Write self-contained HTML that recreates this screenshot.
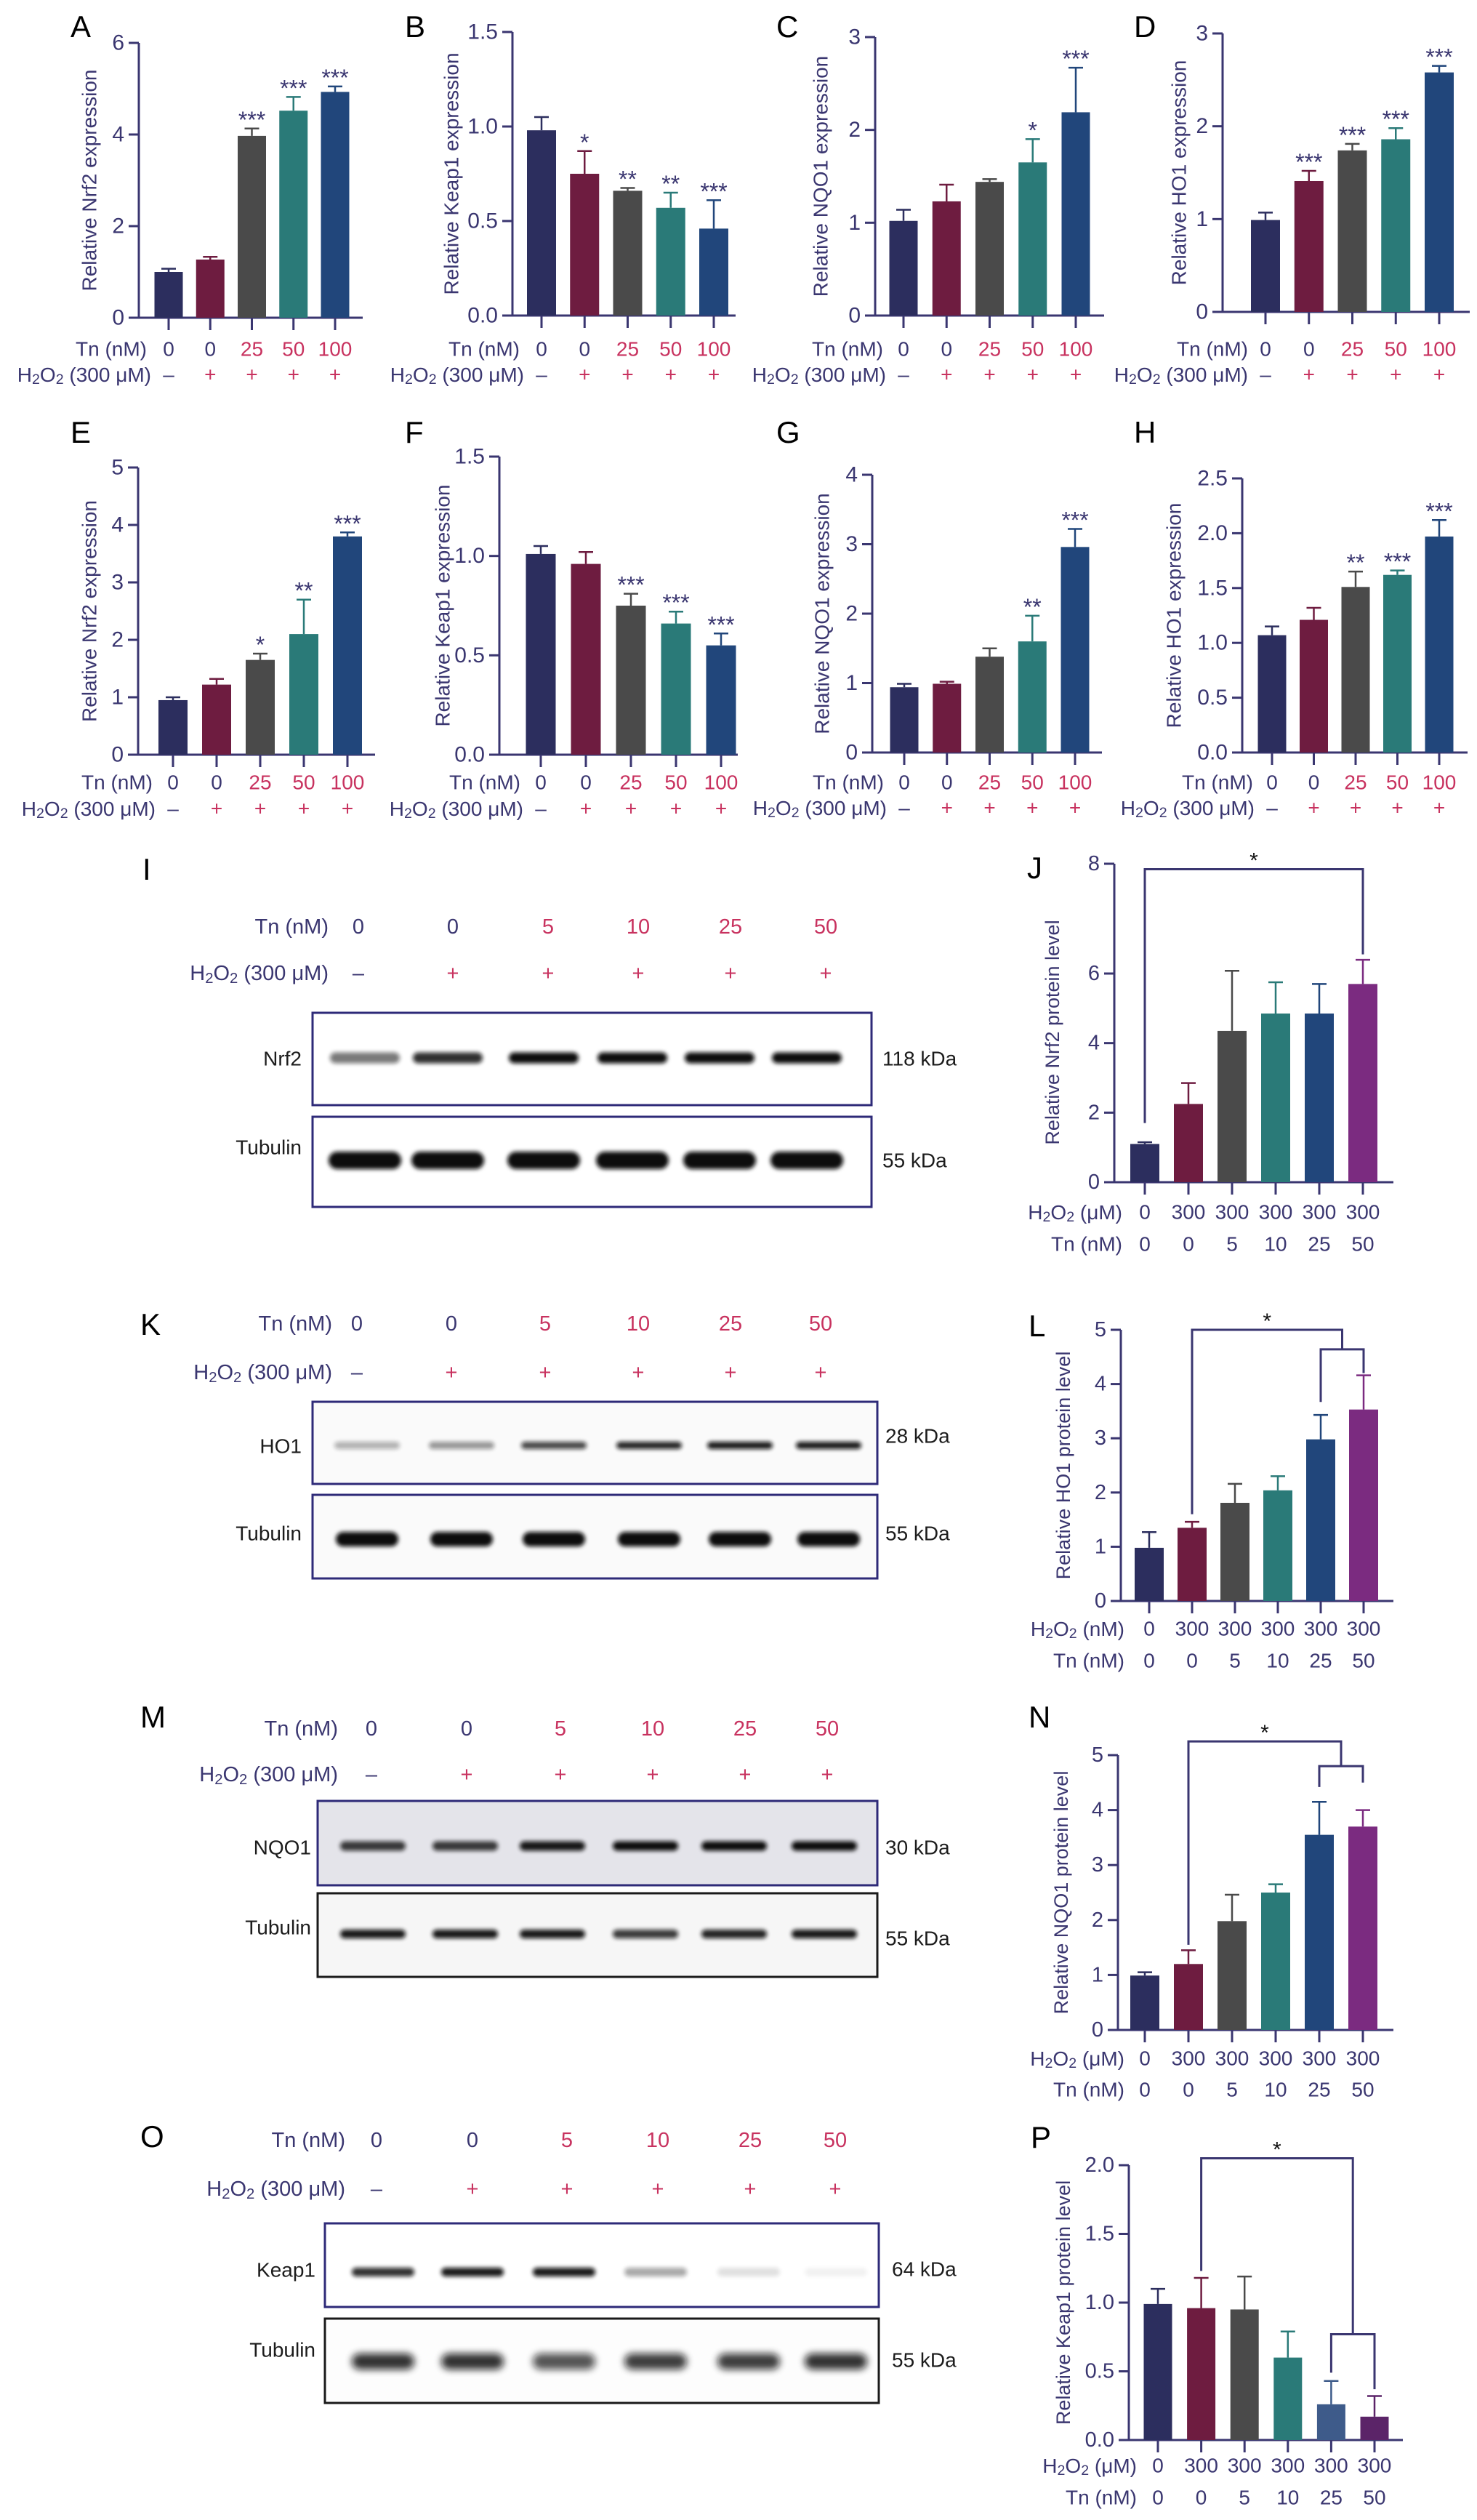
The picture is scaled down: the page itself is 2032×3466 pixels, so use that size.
<!DOCTYPE html>
<html><head><meta charset="utf-8"><title>Nrf2 / Keap1 / HO1 / NQO1 figure</title>
<style>
html,body{margin:0;padding:0;background:#fff;}
svg{display:block;font-family:"Liberation Sans",Arial,sans-serif;}
</style></head>
<body>
<svg id="fig" xmlns="http://www.w3.org/2000/svg" width="2032" height="3466" viewBox="0 0 2032 3466">
<defs>
<filter id="blur3" x="-20%" y="-80%" width="140%" height="260%"><feGaussianBlur stdDeviation="3"/></filter>
<filter id="blur5" x="-20%" y="-80%" width="140%" height="260%"><feGaussianBlur stdDeviation="5"/></filter>
</defs>
<rect x="0" y="0" width="2032" height="3466" fill="#ffffff"/>
</svg>
<script>
// ---------- data: qPCR charts ----------
const tnRow = ['0','0','25','50','100'];
const h2o2Row = ['\u2013','+','+','+','+'];
const valsA = [1.0,1.27,3.97,4.52,4.93];
const errA = [1.07,1.33,4.13,4.82,5.05];
const starsA = ['','','***','***','***'];
const ticksA = [0,2,4,6];
const tickLblA = ['0','2','4','6'];
const valsB = [0.98,0.75,0.66,0.57,0.46];
const errB = [1.05,0.87,0.675,0.65,0.61];
const starsB = ['','*','**','**','***'];
const ticksB = [0,0.5,1,1.5];
const tickLblB = ['0.0','0.5','1.0','1.5'];
const valsC = [1.02,1.23,1.44,1.65,2.19];
const errC = [1.14,1.41,1.47,1.90,2.67];
const starsC = ['','','','*','***'];
const ticksC = [0,1,2,3];
const tickLblC = ['0','1','2','3'];
const valsD = [0.99,1.41,1.74,1.86,2.58];
const errD = [1.07,1.52,1.81,1.98,2.65];
const starsD = ['','***','***','***','***'];
const ticksD = [0,1,2,3];
const tickLblD = ['0','1','2','3'];
const valsE = [0.95,1.22,1.65,2.1,3.8];
const errE = [1.0,1.32,1.76,2.7,3.87];
const starsE = ['','','*','**','***'];
const ticksE = [0,1,2,3,4,5];
const tickLblE = ['0','1','2','3','4','5'];
const valsF = [1.01,0.96,0.75,0.66,0.55];
const errF = [1.05,1.02,0.81,0.72,0.61];
const starsF = ['','','***','***','***'];
const ticksF = [0,0.5,1,1.5];
const tickLblF = ['0.0','0.5','1.0','1.5'];
const valsG = [0.94,0.99,1.38,1.6,2.96];
const errG = [0.99,1.02,1.5,1.97,3.22];
const starsG = ['','','','**','***'];
const ticksG = [0,1,2,3,4];
const tickLblG = ['0','1','2','3','4'];
const valsH = [1.07,1.21,1.51,1.62,1.97];
const errH = [1.15,1.32,1.65,1.66,2.12];
const starsH = ['','','**','***','***'];
const ticksH = [0,0.5,1,1.5,2,2.5];
const tickLblH = ['0.0','0.5','1.0','1.5','2.0','2.5'];

// ---------- data: protein quantification ----------
const protH2o2 = ['0','300','300','300','300','300'];
const protTn = ['0','0','5','10','25','50'];
const valsJ = [1.1,2.25,4.35,4.85,4.85,5.7];
const errJ = [1.15,2.85,6.05,5.75,5.7,6.25];
const ticksJ = [0,2,4,6,8];
const tickLblJ = ['0','2','4','6','8'];
const valsL = [0.98,1.35,1.81,2.04,2.98,3.53];
const errL = [1.27,1.46,2.16,2.3,3.43,4.16];
const ticksL = [0,1,2,3,4,5];
const tickLblL = ['0','1','2','3','4','5'];
const valsN = [0.99,1.2,1.98,2.5,3.55,3.7];
const errN = [1.05,1.45,2.46,2.65,4.15,4.0];
const ticksN = [0,1,2,3,4,5];
const tickLblN = ['0','1','2','3','4','5'];
const valsP = [0.99,0.96,0.95,0.6,0.26,0.17];
const errP = [1.1,1.18,1.19,0.79,0.43,0.32];
const ticksP = [0,0.5,1,1.5,2];
const tickLblP = ['0.0','0.5','1.0','1.5','2.0'];
// significance brackets: bar indices (x1,x2), top value, leg end values
const bracketsJ = [[0,5,7.9,1.7,6.35]];
const bracketsL = [[1,4.5,5.0,1.6,4.64],[4,5,4.64,3.67,4.2]];
const bracketsN = [[1,4.5,5.25,1.55,4.8],[4,5,4.8,4.42,4.5]];
const bracketsP = [[1,4.5,2.05,1.23,0.77],[4,5,0.77,0.49,0.37]];

// ---------- data: blot band intensities ----------
const blotTn = ['0','0','5','10','25','50'];
const blotH2o2 = ['\u2013','+','+','+','+','+'];
const nrf2Int = [0.55,0.85,1,1,1,1];
const tubIInt = [1,1,1,1,1,1];
const ho1Int = [0.3,0.42,0.75,0.9,0.95,0.95];
const tubKInt = [1,1,1,1,1,1];
const nqo1Int = [0.8,0.8,0.95,1,1,1];
const tubMInt = [0.95,0.95,0.95,0.8,0.9,0.95];
const keap1Int = [0.85,0.95,0.95,0.35,0.12,0.05];
const tubOInt = [0.85,0.85,0.7,0.8,0.8,0.85];

// ---------- drawing ----------
const NS = 'http://www.w3.org/2000/svg';
const svg = document.getElementById('fig');
const AX = '#3a3670';
const RED = '#c8325f';
const INK = '#1c1c1c';
const col5 = ['#2c2e5e','#6e1c40','#4a4a4a','#2a7a78','#21467b'];
const col6 = ['#2c2e5e','#6e1c40','#4a4a4a','#2a7a78','#21467b','#7b2b80'];
const col6P = ['#2c2e5e','#6e1c40','#4a4a4a','#2a7a78','#3e5b8a','#5b2468'];

function mk(tag, attrs, parent){
  const e = document.createElementNS(NS, tag);
  for (const k in attrs) e.setAttribute(k, attrs[k]);
  (parent || svg).appendChild(e);
  return e;
}
function txt(s, attrs, parent){
  const e = mk('text', attrs, parent);
  e.textContent = s;
  return e;
}
function h2o2Text(unit, attrs, parent){
  const e = mk('text', attrs, parent);
  const parts = [['H',0],['2',1],['O',-1],['2',1],[' (' + unit + ')',-1]];
  parts.forEach(function(p){
    const t = document.createElementNS(NS,'tspan');
    t.textContent = p[0];
    if (p[1] === 1){ t.setAttribute('font-size','0.7em'); t.setAttribute('dy','7'); }
    if (p[1] === -1){ t.setAttribute('dy','-7'); }
    e.appendChild(t);
  });
  return e;
}
function makeScale(L){
  const bv = (L.breakV !== undefined) ? L.breakV : L.max;
  const by = (L.breakY !== undefined) ? L.breakY : L.yTop;
  return function(v){
    if (v <= bv || L.max <= bv) return L.y0 - (v - L.min) / (bv - L.min) * (L.y0 - by);
    return by - (v - bv) / (L.max - bv) * (by - L.yTop);
  };
}

function drawChart(id, d, L){
  const g = mk('g', {});
  
  
  const y = makeScale(L);
  const xb = function(i){ return L.x0 + i * L.step; };

  const letter = txt(L.letter, {x:L.lx, y:L.ly, 'font-size':42, fill:'#000'}, g);
  
  

  const yAxis = mk('line', {x1:L.ax, x2:L.ax, y1:L.yTop, y2:L.y0, stroke:AX, 'stroke-width':3}, g);
  
  
  const xAxis = mk('line', {x1:L.ax - 1.5, x2:L.end, y1:L.y0, y2:L.y0, stroke:AX, 'stroke-width':3}, g);
  
  

  d.ticks.forEach(function(t, i){
    const tk = mk('line', {x1:L.ax - 14, x2:L.ax, y1:y(t), y2:y(t), stroke:AX, 'stroke-width':3}, g);
    
    
    const tl = txt(d.tickLabels[i], {x:L.ax - 20, y:y(t), 'text-anchor':'end', 'dominant-baseline':'central', 'font-size':L.tf || 30, fill:AX}, g);
    
    
  });

  const title = txt(d.title, {x:0, y:0, 'text-anchor':'middle', 'dominant-baseline':'central', 'font-size':L.titleF || 28, fill:AX, transform:'translate(' + L.tx + ',' + (L.tyc !== undefined ? L.tyc : (L.yTop + L.y0) / 2) + ') rotate(-90)'}, g);
  
  

  d.values.forEach(function(v, i){
    const c = d.colors[i];
    const bar = mk('rect', {x:xb(i) - L.bw / 2, y:y(v), width:L.bw, height:L.y0 - y(v), fill:c}, g);
    
    
    const eb = mk('line', {x1:xb(i), x2:xb(i), y1:y(v), y2:y(d.errors[i]), stroke:c, 'stroke-width':2.5}, g);
    
    
    const cap = mk('line', {x1:xb(i) - 10, x2:xb(i) + 10, y1:y(d.errors[i]), y2:y(d.errors[i]), stroke:c, 'stroke-width':2.5}, g);
    
    
    const xt = mk('line', {x1:xb(i), x2:xb(i), y1:L.y0, y2:L.y0 + 17, stroke:AX, 'stroke-width':3}, g);
    
    
    if (d.stars && d.stars[i]){
      const st = txt(d.stars[i], {x:xb(i), y:y(d.errors[i]) - 1, 'text-anchor':'middle', 'font-size':32, fill:AX}, g);
      
      
    }
  });

  d.rows.forEach(function(r, ri){
    const ry = L.rowY[ri];
    let lab;
    if (r.h2o2) lab = h2o2Text(r.unit, {x:xb(0) - L.rowOff[ri], y:ry, 'text-anchor':'end', 'dominant-baseline':'central', 'font-size':28, fill:AX}, g);
    else lab = txt(r.label, {x:xb(0) - L.rowOff[ri], y:ry, 'text-anchor':'end', 'dominant-baseline':'central', 'font-size':28, fill:AX}, g);
    
    
    r.vals.forEach(function(s, i){
      const red = r.colorize && (s === '+' || (s !== '0' && s !== '\u2013'));
      const t = txt(s, {x:xb(i), y:ry, 'text-anchor':'middle', 'dominant-baseline':'central', 'font-size':28, fill: red ? RED : AX}, g);
      
      
    });
  });

  (d.brackets || []).forEach(function(b, bi){
    const x1 = xb(b[0]), x2 = xb(b[1]);
    const path = 'M' + x1 + ',' + y(b[3]) + ' V' + y(b[2]) + ' H' + x2 + ' V' + y(b[4]);
    const br = mk('path', {d:path, fill:'none', stroke:AX, 'stroke-width':3}, g);
    
    
    if (bi === 0){
      const st = txt('*', {x:(x1 + x2) / 2, y:y(b[2]) - 2, 'text-anchor':'middle', 'font-size':30, fill:'#111'}, g);
      
      
    }
  });
}

function rowsQ(){ return [{label:'Tn (nM)', vals:tnRow, colorize:true}, {h2o2:true, unit:'300 \u03bcM', vals:h2o2Row, colorize:true}]; }
function rowsP(unit){ return [{h2o2:true, unit:unit, vals:protH2o2, colorize:false}, {label:'Tn (nM)', vals:protTn, colorize:false}]; }

// Row 1
drawChart('nrf2-mrna-a', {values:valsA, errors:errA, stars:starsA, ticks:ticksA, tickLabels:tickLblA, colors:col5, title:'Relative Nrf2 expression', rows:rowsQ()},
  {letter:'A', lx:97, ly:51, ax:191, y0:437, yTop:59, min:0, max:6, x0:232, step:57.25, bw:39, end:499, tx:123, rowY:[480,515], rowOff:[30,24]});
drawChart('keap1-mrna-b', {values:valsB, errors:errB, stars:starsB, ticks:ticksB, tickLabels:tickLblB, colors:col5, title:'Relative Keap1 expression', rows:rowsQ()},
  {letter:'B', lx:557, ly:51, ax:705, y0:434, yTop:44, min:0, max:1.5, x0:745, step:59.25, bw:40, end:1012, tx:621, rowY:[480,515], rowOff:[30,24]});
drawChart('nqo1-mrna-c', {values:valsC, errors:errC, stars:starsC, ticks:ticksC, tickLabels:tickLblC, colors:col5, title:'Relative NQO1 expression', rows:rowsQ()},
  {letter:'C', lx:1068, ly:51, ax:1204, y0:434, yTop:51, min:0, max:3, x0:1243, step:59.25, bw:39, end:1519, tx:1129, rowY:[480,515], rowOff:[28,24]});
drawChart('ho1-mrna-d', {values:valsD, errors:errD, stars:starsD, ticks:ticksD, tickLabels:tickLblD, colors:col5, title:'Relative HO1 expression', rows:rowsQ()},
  {letter:'D', lx:1560, ly:51, ax:1682, y0:429, yTop:46, min:0, max:3, x0:1741, step:59.75, bw:40, end:2022, tx:1622, rowY:[480,515], rowOff:[24,24]});
// Row 2
drawChart('nrf2-mrna-e', {values:valsE, errors:errE, stars:starsE, ticks:ticksE, tickLabels:tickLblE, colors:col5, title:'Relative Nrf2 expression', rows:rowsQ()},
  {letter:'E', lx:97, ly:609, ax:190, y0:1038, yTop:643, min:0, max:5, x0:238, step:60, bw:40, end:516, tx:123, rowY:[1076,1112], rowOff:[28,24]});
drawChart('keap1-mrna-f', {values:valsF, errors:errF, stars:starsF, ticks:ticksF, tickLabels:tickLblF, colors:col5, title:'Relative Keap1 expression', rows:rowsQ()},
  {letter:'F', lx:557, ly:609, ax:687, y0:1038, yTop:628, min:0, max:1.5, x0:744, step:62, bw:41, end:1015, tx:609, rowY:[1076,1112], rowOff:[28,24]});
drawChart('nqo1-mrna-g', {values:valsG, errors:errG, stars:starsG, ticks:ticksG, tickLabels:tickLblG, colors:col5, title:'Relative NQO1 expression', rows:rowsQ()},
  {letter:'G', lx:1068, ly:609, ax:1200, y0:1035, yTop:653, min:0, max:4, x0:1244, step:58.75, bw:39, end:1516, tx:1131, rowY:[1076,1111], rowOff:[28,24]});
drawChart('ho1-mrna-h', {values:valsH, errors:errH, stars:starsH, ticks:ticksH, tickLabels:tickLblH, colors:col5, title:'Relative HO1 expression', rows:rowsQ()},
  {letter:'H', lx:1560, ly:609, ax:1709, y0:1035, yTop:658, min:0, max:2.5, x0:1750, step:57.5, bw:39, end:2019, tx:1615, rowY:[1076,1111], rowOff:[26,24]});
// Protein charts
drawChart('nrf2-protein-j', {values:valsJ, errors:errJ, ticks:ticksJ, tickLabels:tickLblJ, colors:col6, title:'Relative Nrf2 protein level', rows:rowsP('\u03bcM'), brackets:bracketsJ},
  {letter:'J', lx:1413, ly:1208, ax:1533, y0:1626, yTop:1188, breakV:6, breakY:1339, min:0, max:8, x0:1575, step:60, bw:40, end:1917, tx:1448, tyc:1420, titleF:27, tf:29, rowY:[1667,1711], rowOff:[31,31]});
drawChart('ho1-protein-l', {values:valsL, errors:errL, ticks:ticksL, tickLabels:tickLblL, colors:col6, title:'Relative HO1 protein level', rows:rowsP('nM'), brackets:bracketsL},
  {letter:'L', lx:1415, ly:1838, ax:1542, y0:2202, yTop:1829, min:0, max:5, x0:1581, step:59, bw:40, end:1917, tx:1463, titleF:27, tf:29, rowY:[2240,2284], rowOff:[34,34]});
drawChart('nqo1-protein-n', {values:valsN, errors:errN, ticks:ticksN, tickLabels:tickLblN, colors:col6, title:'Relative NQO1 protein level', rows:rowsP('\u03bcM'), brackets:bracketsN},
  {letter:'N', lx:1415, ly:2376, ax:1538, y0:2792, yTop:2414, min:0, max:5, x0:1575, step:60, bw:40, end:1917, tx:1460, titleF:27, tf:29, rowY:[2831,2874], rowOff:[28,28]});
drawChart('keap1-protein-p', {values:valsP, errors:errP, ticks:ticksP, tickLabels:tickLblP, colors:col6P, title:'Relative Keap1 protein level', rows:rowsP('\u03bcM'), brackets:bracketsP},
  {letter:'P', lx:1418, ly:2954, ax:1553, y0:3356, yTop:2978, min:0, max:2, x0:1593, step:59.6, bw:39, end:1930, tx:1463, titleF:27, tf:29, rowY:[3391,3435], rowOff:[29,29]});

// ---------- western blots ----------
function drawBlot(id, B){
  const g = mk('g', {});
  
  
  const letter = txt(B.letter, {x:B.lx, y:B.ly, 'font-size':42, fill:'#000'}, g);
  
  
  const tl = txt('Tn (nM)', {x:B.labR, y:B.tnY, 'text-anchor':'end', 'dominant-baseline':'central', 'font-size':29, fill:AX}, g);
  
  
  const hl = h2o2Text('300 \u03bcM', {x:B.labR, y:B.hY, 'text-anchor':'end', 'dominant-baseline':'central', 'font-size':29, fill:AX}, g);
  
  
  blotTn.forEach(function(s, i){
    const t = txt(s, {x:B.lanes[i], y:B.tnY, 'text-anchor':'middle', 'dominant-baseline':'central', 'font-size':29, fill: s === '0' ? AX : RED}, g);
    
    
  });
  blotH2o2.forEach(function(s, i){
    const t = txt(s, {x:B.lanes[i], y:B.hY, 'text-anchor':'middle', 'dominant-baseline':'central', 'font-size':29, fill: s === '+' ? RED : AX}, g);
    
    
  });
  B.strips.forEach(function(S){
    const box = mk('rect', {x:B.bx, y:S.top, width:B.bw, height:S.h, fill:S.bg, stroke:S.border, 'stroke-width':3}, g);
    
    
    S.ints.forEach(function(a, i){
      const band = mk('rect', {x:B.bands[i] - S.bwid / 2, y:S.by - S.bh / 2, width:S.bwid, height:S.bh, rx:S.bh / 2, fill:'#0a0a0a', opacity:a, filter:S.blur}, g);
      
      
    });
    const pl = txt(S.label, {x:B.protR, y:S.ly, 'text-anchor':'end', 'dominant-baseline':'central', 'font-size':28, fill:INK}, g);
    
    
    const kd = txt(S.kda, {x:B.kx, y:S.ky, 'dominant-baseline':'central', 'font-size':28, fill:INK}, g);
    
    
  });
}

drawBlot('nrf2-i', {letter:'I', lx:196, ly:1210, labR:452, tnY:1275, hY:1339,
  lanes:[493,623,754,878,1005,1136], bands:[502,616,748,870,990,1110], bx:430, bw:769, protR:415, kx:1214,
  strips:[
    {name:'nrf2', label:'Nrf2', kda:'118 kDa', top:1393, h:127, bg:'#ffffff', border:'#2e2a78', by:1455, bh:15, bwid:96, ints:nrf2Int, blur:'url(#blur3)', ly:1456, ky:1456},
    {name:'tubulin-i', label:'Tubulin', kda:'55 kDa', top:1536, h:124, bg:'#ffffff', border:'#2e2a78', by:1596, bh:24, bwid:100, ints:tubIInt, blur:'url(#blur3)', ly:1578, ky:1596}
  ]});
drawBlot('ho1-k', {letter:'K', lx:193, ly:1836, labR:457, tnY:1821, hY:1888,
  lanes:[491,621,750,878,1005,1129], bands:[505,635,762,893,1018,1140], bx:430, bw:777, protR:415, kx:1218,
  strips:[
    {name:'ho1', label:'HO1', kda:'28 kDa', top:1928, h:113, bg:'#fafafa', border:'#2e2a78', by:1988, bh:10, bwid:90, ints:ho1Int, blur:'url(#blur3)', ly:1989, ky:1975},
    {name:'tubulin-k', label:'Tubulin', kda:'55 kDa', top:2056, h:115, bg:'#fafafa', border:'#2e2a78', by:2117, bh:20, bwid:86, ints:tubKInt, blur:'url(#blur3)', ly:2109, ky:2109}
  ]});
drawBlot('nqo1-m', {letter:'M', lx:193, ly:2376, labR:465, tnY:2378, hY:2441,
  lanes:[511,642,771,898,1025,1138], bands:[513,640,760,888,1010,1134], bx:437, bw:770, protR:428, kx:1218,
  strips:[
    {name:'nqo1', label:'NQO1', kda:'30 kDa', top:2477, h:116, bg:'#e4e4ea', border:'#2e2a78', by:2539, bh:13, bwid:90, ints:nqo1Int, blur:'url(#blur3)', ly:2541, ky:2541},
    {name:'tubulin-m', label:'Tubulin', kda:'55 kDa', top:2604, h:115, bg:'#f6f6f6', border:'#1a1a1a', by:2660, bh:12, bwid:90, ints:tubMInt, blur:'url(#blur3)', ly:2651, ky:2666}
  ]});
drawBlot('keap1-o', {letter:'O', lx:193, ly:2953, labR:475, tnY:2944, hY:3011,
  lanes:[518,650,780,905,1032,1149], bands:[527,650,776,902,1030,1150], bx:447, bw:762, protR:434, kx:1227,
  strips:[
    {name:'keap1', label:'Keap1', kda:'64 kDa', top:3058, h:115, bg:'#ffffff', border:'#2e2a78', by:3125, bh:12, bwid:86, ints:keap1Int, blur:'url(#blur3)', ly:3122, ky:3121},
    {name:'tubulin-o', label:'Tubulin', kda:'55 kDa', top:3189, h:116, bg:'#fdfdfd', border:'#1a1a1a', by:3248, bh:22, bwid:86, ints:tubOInt, blur:'url(#blur5)', ly:3232, ky:3246}
  ]});
</script>
</body></html>
